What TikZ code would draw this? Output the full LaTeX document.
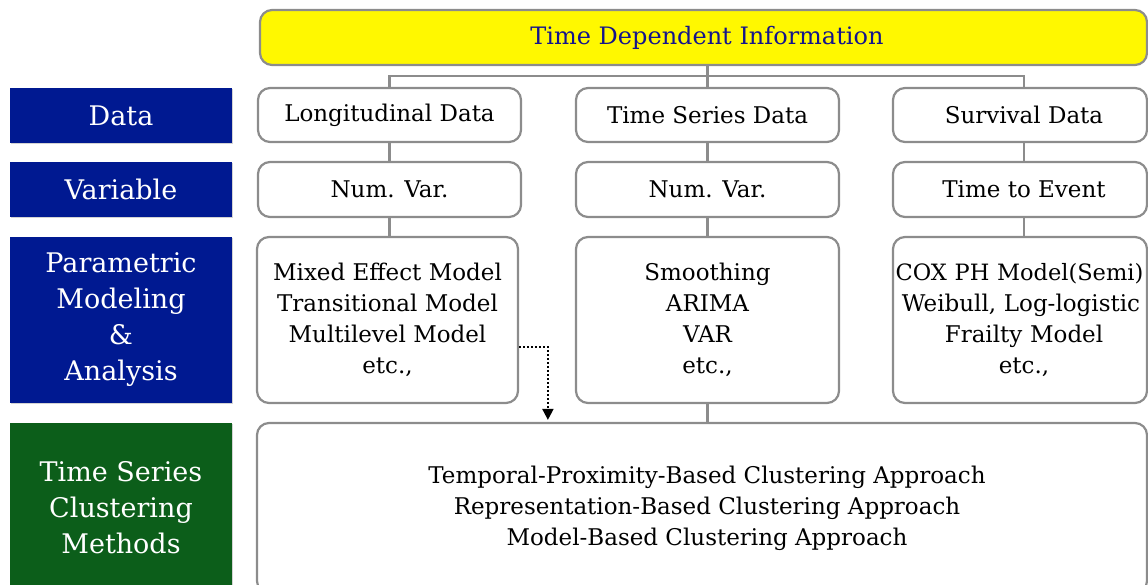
\documentclass[tikz,border=0pt]{standalone}
\usepackage{fontspec}
\setmainfont{DejaVu Serif}
\usetikzlibrary{arrows.meta,shadows,calc}
\definecolor{lblblue}{RGB}{0,25,145}
\definecolor{lblgreen}{RGB}{12,94,26}
\definecolor{ttlblue}{RGB}{20,20,140}
\definecolor{ttlyellow}{RGB}{255,248,0}
\definecolor{boxgray}{RGB}{140,140,140}
\tikzset{
  lbl/.style={draw=none, minimum width=222pt, text=white, align=center,
    font=\fontsize{27}{36}\selectfont, inner sep=0pt,
    drop shadow={shadow xshift=1pt, shadow yshift=-1pt, opacity=0.35}},
  wbox/.style={draw=boxgray, line width=2.2pt, rounded corners=12pt, fill=white,
    align=center, font=\fontsize{23}{31}\selectfont, inner sep=0pt},
  conn/.style={draw=boxgray, line width=2.2pt},
  dots/.style={draw=black, line width=2pt, dash pattern=on 2pt off 2pt,
    -{Triangle[length=11pt,width=11pt]}}
}
\begin{document}
\begin{tikzpicture}[x=1pt,y=-1pt]
\useasboundingbox (0,0) rectangle (1148,585);
\clip (0,0) rectangle (1148,585);
% title
\node[wbox, fill=ttlyellow, minimum width=887pt, minimum height=55pt, text=ttlblue,
  font=\fontsize{24}{31}\selectfont] (top) at (703.5,37.5) {\hspace*{7pt}Time Dependent Information};
% left labels
\node[lbl, fill=lblblue, minimum height=55pt] (ldata) at (121,115.5) {Data};
\node[lbl, fill=lblblue, minimum height=55pt] (lvar) at (121,189.5) {Variable};
\node[lbl, fill=lblblue, minimum height=166pt] (lpar) at (121,320) {Parametric\\Modeling\\\&\\Analysis};
\node[lbl, fill=lblgreen, minimum height=170pt] (lclu) at (121,508) {Time Series\\Clustering\\Methods};
% data row
\node[wbox, minimum width=263pt, minimum height=54pt] (long) at (389.5,115) {Longitudinal Data};
\node[wbox, minimum width=263pt, minimum height=54pt] (ts) at (707.5,115) {Time Series Data};
\node[wbox, minimum width=254pt, minimum height=54pt] (surv) at (1020,115) {\hspace*{8pt}Survival Data};
% variable row
\node[wbox, minimum width=263pt, minimum height=55pt] (longv) at (389.5,189.5) {Num. Var.};
\node[wbox, minimum width=263pt, minimum height=55pt] (tsv) at (707.5,189.5) {Num. Var.};
\node[wbox, minimum width=254pt, minimum height=55pt] (survv) at (1020,189.5) {\hspace*{8pt}Time to Event};
% model row
\node[wbox, minimum width=261pt, minimum height=166pt] (longm) at (387.5,320) {Mixed Effect Model\\Transitional Model\\Multilevel Model\\etc.,};
\node[wbox, minimum width=263pt, minimum height=166pt] (tsm) at (707.5,320) {Smoothing\\ARIMA\\VAR\\etc.,};
\node[wbox, minimum width=254pt, minimum height=166pt, text width=254pt] (survm) at (1020,320) {\makebox[254pt][c]{\fontsize{22.5}{31}\selectfont\hspace*{-1pt}COX PH Model(Semi)}\\\makebox[254pt][c]{\hspace*{2pt}Weibull, Log-logistic}\\\hspace*{8pt}Frailty Model\\\hspace*{8pt}etc.,};
% clustering
\node[wbox, minimum width=890pt, minimum height=170pt] (clu) at (702,508) {\hspace*{10pt}Temporal-Proximity-Based Clustering Approach\\\hspace*{10pt}Representation-Based Clustering Approach\\\hspace*{10pt}Model-Based Clustering Approach};
% connectors
\coordinate (j) at ($(top.south -| ts.north)+(0,10)$);
\draw[conn] (top.south -| ts.north) -- (ts.north);
\draw[conn] (long.north) |- (j) -| ([xshift=4pt]surv.north);
\draw[conn] (long.south) -- (longv.north);
\draw[conn] (ts.south) -- (tsv.north);
\draw[conn] ([xshift=4pt]surv.south) -- ([xshift=4pt]survv.north);
\draw[conn] (longv.south) -- (longv.south |- longm.north);
\draw[conn] (tsv.south) -- (tsm.north);
\draw[conn] ([xshift=4pt]survv.south) -- ([xshift=4pt]survv.south |- survm.north);
\draw[conn] (tsm.south) -- (tsm.south |- clu.north);
\draw[dots] ($(longm.east)+(0,27)$) -| ($(clu.north west)+(292,-2)$);
\end{tikzpicture}
\end{document}
